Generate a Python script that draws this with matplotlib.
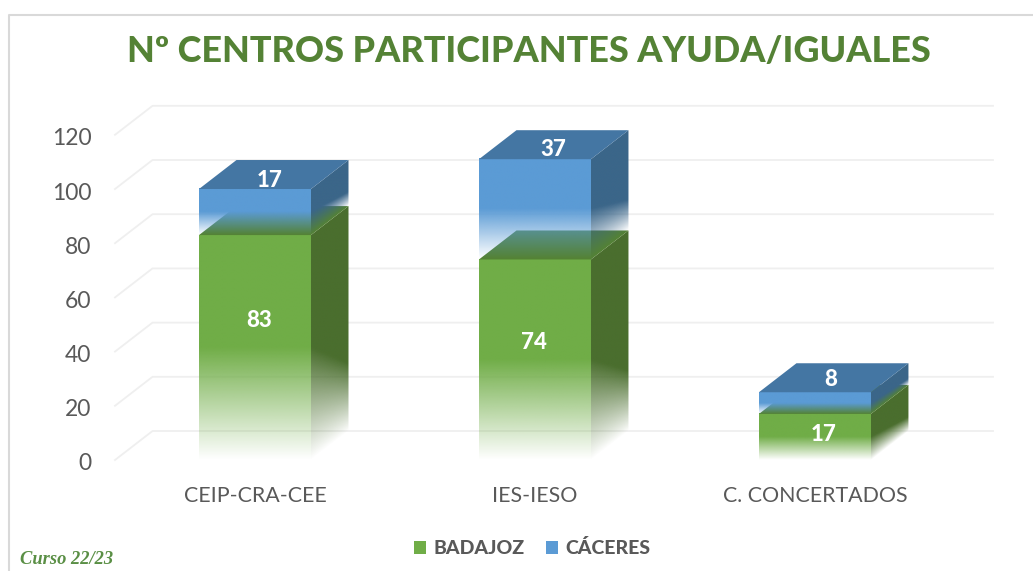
import matplotlib
matplotlib.use('Agg')
import matplotlib.pyplot as plt
import numpy as np
from matplotlib.lines import Line2D
from matplotlib.patches import Patch, Polygon
from matplotlib.colors import to_rgb
from matplotlib.transforms import ScaledTranslation

plt.rcParams['font.family'] = ['Lato', 'DejaVu Sans']

categories = ['CEIP-CRA-CEE', 'IES-IESO', 'C. CONCERTADOS']
badajoz = [83, 74, 17]
caceres = [17, 37, 8]
y_ticks = [0, 20, 40, 60, 80, 100, 120]

# where the value labels sit (offset from category centre, value on the axis)
badajoz_label_dx = [0.014, -0.004, 0.032]
badajoz_label_y = [51.6, 43.5, 9.5]
caceres_label_dx = [0.054, 0.064, 0.057]
caceres_label_y = [103.2, 114.7, 29.8]

W, H = 1033, 571
bar_w = 0.4
depth_x = 0.134
depth_y = 10.7

fig = plt.figure(figsize=(W / 100, H / 100), dpi=100)
ax = fig.add_axes([115 / W, 1 - 460 / H, (993 - 115) / W, (460 - 105) / H])
ax.set_xlim(-0.5, 2.636)
ax.set_ylim(0, 131)
for s in ax.spines.values():
    s.set_visible(False)

# walls
grid_c = '#efefef'
for v in y_ticks:
    ax.plot([-0.5, -0.5 + depth_x, 2.636], [v, v + depth_y, v + depth_y],
            color=grid_c, lw=1.3, zorder=1, clip_on=False)


def front_face(x0, x1, y0, y1, color):
    t = np.linspace(0, 1, 200).reshape(-1, 1)
    img = np.ones((200, 1, 4))
    img[..., :3] = to_rgb(color)
    img[..., 3] = np.clip((1 - t) / 0.5, 0, 1)
    ax.imshow(img, extent=(x0, x1, y0, y1), aspect='auto', origin='upper',
              zorder=3, interpolation='bilinear')


def side_face(x0, y0, y1, color):
    ny, nx = 300, 80
    xf = np.linspace(0, 1, nx)
    vals = np.linspace(y1 + depth_y, y0, ny)
    img = np.ones((ny, nx, 4))
    img[..., :3] = to_rgb(color)
    xx, vv = np.meshgrid(xf, vals)
    s = (y1 + depth_y * xx - vv) / (y1 - y0)
    start = 0.5 + 0.2 * xx
    img[..., 3] = np.clip((1 - s) / (1 - start), 0, 1)
    im = ax.imshow(img, extent=(x0, x0 + depth_x, y0, y1 + depth_y), aspect='auto',
                   origin='upper', zorder=3, interpolation='bilinear')
    im.set_clip_path(Polygon([(x0, y0), (x0 + depth_x, y0 + depth_y),
                              (x0 + depth_x, y1 + depth_y), (x0, y1)],
                             transform=ax.transData))


def box(c, y0, y1, front, side, top):
    x0 = c - bar_w / 2
    x1 = c + bar_w / 2
    front_face(x0, x1, y0, y1, front)
    side_face(x1, y0, y1, side)
    ax.add_patch(Polygon([(x0, y1), (x1, y1), (x1 + depth_x, y1 + depth_y),
                          (x0 + depth_x, y1 + depth_y)],
                         facecolor=top, edgecolor='none', zorder=3))


for i in range(len(categories)):
    box(i, 0, badajoz[i], '#70ad47', '#4a6e2e', '#548235')
for i in range(len(categories)):
    box(i, badajoz[i], badajoz[i] + caceres[i], '#5b9bd5', '#3b6689', '#4476a3')

ax.set_xlim(-0.5, 2.636)
ax.set_ylim(0, 131)

for i in range(len(categories)):
    ax.text(i + badajoz_label_dx[i], badajoz_label_y[i], str(badajoz[i]), color='white',
            fontsize=16, fontweight='black', ha='center', va='center', zorder=5)
    ax.text(i + caceres_label_dx[i], caceres_label_y[i], str(caceres[i]), color='white',
            fontsize=16, fontweight='black', ha='center', va='center', zorder=5)

ax.set_yticks(y_ticks)
ax.set_xticks(range(len(categories)))
ax.set_xticklabels(categories)
ax.tick_params(axis='y', length=0, pad=17, labelsize=16.5, labelcolor='#595959')
ax.tick_params(axis='x', length=0, pad=18.6, labelsize=15.4, labelcolor='#595959')
shift = ScaledTranslation(0, -2 / 100, fig.dpi_scale_trans)
for lab in ax.get_yticklabels():
    lab.set_verticalalignment('center_baseline')
    lab.set_transform(lab.get_transform() + shift)

fig.text(529 / W, 1 - 52 / H, 'Nº CENTROS PARTICIPANTES AYUDA/IGUALES', color='#548235',
         fontsize=25.9, fontweight='black', ha='center', va='center')
fig.text(20 / W, 1 - 559 / H, 'Curso 22/23', color='#5a8f45', fontsize=13.3,
         family='Liberation Serif', style='italic', fontweight='bold', ha='left', va='center')

handles = [Patch(facecolor='#70ad47', label='BADAJOZ'), Patch(facecolor='#5b9bd5', label='CÁCERES')]
leg = fig.legend(handles=handles, loc='center', bbox_to_anchor=(532 / W, 1 - 548 / H), ncols=2,
                 frameon=False, handlelength=0.65, handleheight=0.65, handletextpad=0.35,
                 columnspacing=1.1, prop={'size': 14, 'weight': 'black'}, labelcolor='#595959')

# frame of the pasted picture
fig.add_artist(Line2D([9 / W, 9 / W, 1], [0, 1 - 15 / H, 1 - 15 / H], color='#d9d9d9', lw=1.5))

fig.savefig('out.png', dpi=100)
